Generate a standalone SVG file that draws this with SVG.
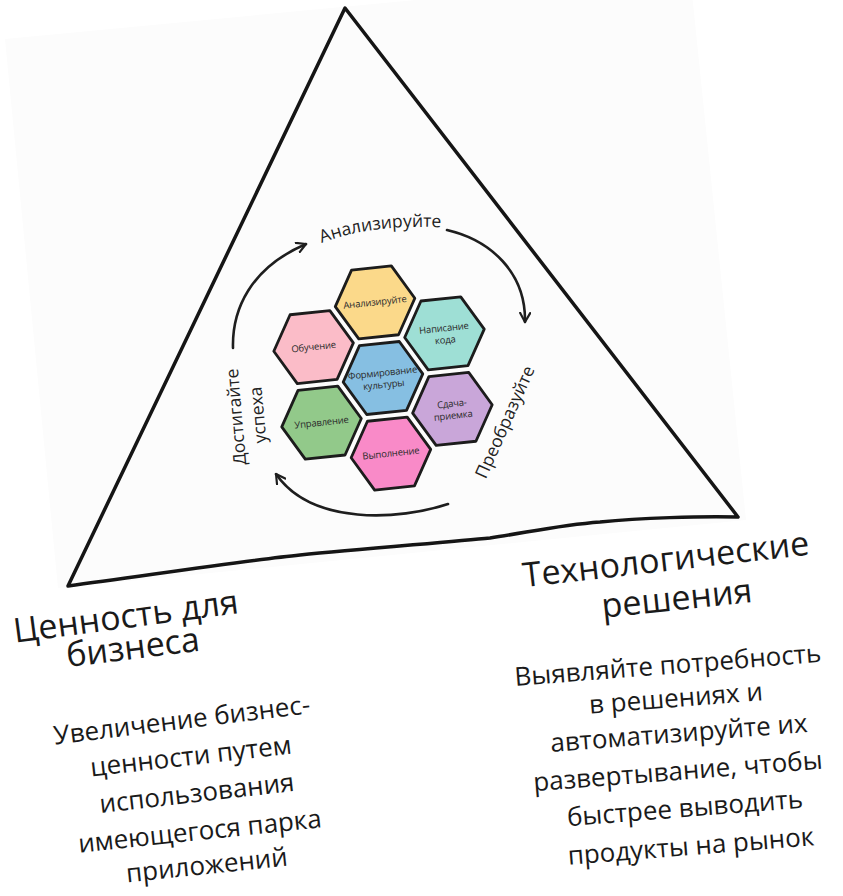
<svg xmlns="http://www.w3.org/2000/svg" xmlns:xlink="http://www.w3.org/1999/xlink" width="843" height="896" viewBox="0 0 843 896">
  <style>
    .edge { fill: none; stroke: #151515; stroke-width: 3.5; stroke-linejoin: round; stroke-linecap: round; }
    .arc { fill: none; stroke: #1e1e1e; stroke-width: 2.6; stroke-linecap: round; }
    .hex { stroke: #1c1c1c; stroke-width: 2.8; stroke-linejoin: round; }
    .hl { font-family: "Open Sans", "Noto Sans", sans-serif; font-size: 9.5px; fill: #2a2a2a; text-anchor: middle; letter-spacing: -0.2px; }
    .cyc { font-family: "Open Sans", "Noto Sans", sans-serif; font-size: 17.5px; fill: #222; text-anchor: middle; }
    .title { font-family: "Open Sans", "Noto Sans", sans-serif; font-size: 34px; fill: #1a1a1a; text-anchor: middle; }
    .body { font-family: "Open Sans", "Noto Sans", sans-serif; font-size: 26px; fill: #1a1a1a; text-anchor: middle; }
  </style>
  <defs>
    <path id="hexshape" d="M40,0 L20,34.6 L-20,34.6 L-40,0 L-20,-34.6 L20,-34.6 Z"/>
    <marker id="chev" viewBox="0 0 12 12" refX="10" refY="6" markerWidth="12" markerHeight="12" markerUnits="userSpaceOnUse" orient="auto">
      <path d="M1,1 L10,6 L1,11" fill="none" stroke="#1e1e1e" stroke-width="2.2" stroke-linecap="round" stroke-linejoin="round"/>
    </marker>
  </defs>

  <rect width="843" height="896" fill="#ffffff"/>
  <polygon points="5,39 690,-26 746,520 58,588" fill="#fcfcfc"/>

  <g id="triangle">
    <path class="edge" d="M68,586 L345,8 L738,517 C700,516 640,518 600,522 C560,525 530,532 490,538 C450,542 360,549 300,555 C250,560 150,575 68,586 Z"/>
  </g>

  <g id="connectors">
    <path class="arc" d="M233,348 C232,310 250,268 306,244" marker-end="url(#chev)"/>
    <path class="arc" d="M447,230 C490,240 526,272 525,322" marker-end="url(#chev)"/>
    <path class="arc" d="M448,504 C400,520 312,526 276,474" marker-end="url(#chev)"/>
  </g>

  <g id="hexagons" transform="translate(383,378) rotate(-6)">
    <g id="hex-culture">
      <use xlink:href="#hexshape" class="hex" fill="#86bfe2"/>
      <text class="hl" x="0" y="-2">Формирование</text>
      <text class="hl" x="0" y="10">культуры</text>
    </g>
    <g id="hex-analyze" transform="translate(0,-76)">
      <use xlink:href="#hexshape" class="hex" fill="#fbd98a"/>
      <text class="hl" x="0" y="3">Анализируйте</text>
    </g>
    <g id="hex-code" transform="translate(65.8,-38)">
      <use xlink:href="#hexshape" class="hex" fill="#9edfd5"/>
      <text class="hl" x="0" y="-2">Написание</text>
      <text class="hl" x="0" y="10">кода</text>
    </g>
    <g id="hex-handover" transform="translate(65.8,38)">
      <use xlink:href="#hexshape" class="hex" fill="#c9a6d9"/>
      <text class="hl" x="0" y="-2">Сдача-</text>
      <text class="hl" x="0" y="10">приемка</text>
    </g>
    <g id="hex-execute" transform="translate(0,76)">
      <use xlink:href="#hexshape" class="hex" fill="#f98ac8"/>
      <text class="hl" x="0" y="3">Выполнение</text>
    </g>
    <g id="hex-manage" transform="translate(-65.8,38)">
      <use xlink:href="#hexshape" class="hex" fill="#92c98a"/>
      <text class="hl" x="0" y="3">Управление</text>
    </g>
    <g id="hex-learn" transform="translate(-65.8,-38)">
      <use xlink:href="#hexshape" class="hex" fill="#fbbcc8"/>
      <text class="hl" x="0" y="3">Обучение</text>
    </g>
  </g>

  <g id="cycle-labels">
    <path id="analyzePath" d="M312,247 Q368,222 452,228" fill="none"/>
    <text class="cyc"><textPath xlink:href="#analyzePath" startOffset="50%">Анализируйте</textPath></text>
    <g transform="translate(247,416) rotate(-95)">
      <text class="cyc" x="0" y="-5">Достигайте</text>
      <text class="cyc" x="0" y="17">успеха</text>
    </g>
    <text class="cyc" transform="translate(505,422) rotate(-66)" y="6">Преобразуйте</text>
  </g>

  <g id="business">
    <text class="title" transform="translate(126,618) rotate(-7.5)" y="10">Ценность для</text>
    <text class="title" transform="translate(133,649) rotate(-7)" y="10">бизнеса</text>
    <text class="body" transform="translate(182,722) rotate(-7)" y="7">Увеличение бизнес-</text>
    <text class="body" transform="translate(191,758) rotate(-6.5)" y="7">ценности путем</text>
    <text class="body" transform="translate(197,795) rotate(-6.5)" y="7">использования</text>
    <text class="body" transform="translate(200,833) rotate(-6)" y="7">имеющегося парка</text>
    <text class="body" transform="translate(207,867) rotate(-6)" y="7">приложений</text>
  </g>

  <g id="technology">
    <text class="title" transform="translate(666,561) rotate(-6.5)" y="10">Технологические</text>
    <text class="title" transform="translate(677,600) rotate(-6)" y="10">решения</text>
    <text class="body" transform="translate(668,667) rotate(-4.5)" y="7">Выявляйте потребность</text>
    <text class="body" transform="translate(676,700) rotate(-4.5)" y="7">в решениях и</text>
    <text class="body" transform="translate(679,735) rotate(-4.5)" y="7">автоматизируйте их</text>
    <text class="body" transform="translate(678,773) rotate(-4.5)" y="7">развертывание, чтобы</text>
    <text class="body" transform="translate(685,810) rotate(-4.5)" y="7">быстрее выводить</text>
    <text class="body" transform="translate(691,848) rotate(-4.5)" y="7">продукты на рынок</text>
  </g>
</svg>
